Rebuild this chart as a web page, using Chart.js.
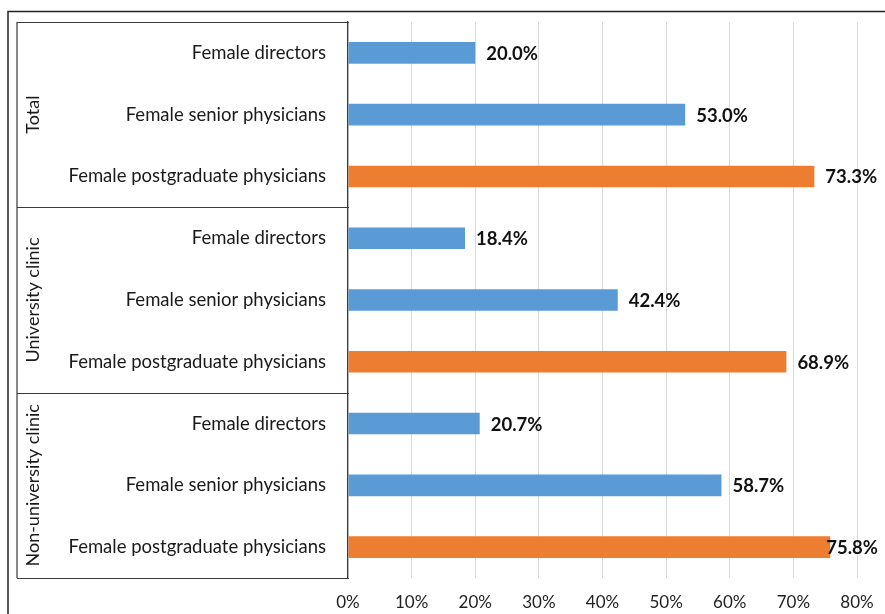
<!DOCTYPE html>
<html>
<head>
<meta charset="utf-8">
<script src="https://cdn.jsdelivr.net/npm/chart.js@4/dist/chart.umd.min.js"></script>
<style>
  html, body { margin: 0; padding: 0; background: #ffffff; }
  #wrap { width: 885px; height: 614px; position: relative; }
</style>
</head>
<body>
<div id="wrap"><canvas id="chart" width="885" height="614"></canvas></div>
<script>
// Share of women by position, per hospital type (percent)
const groups = ['Total', 'University clinic', 'Non-university clinic'];
const roles = ['Female directors', 'Female senior physicians', 'Female postgraduate physicians'];
const totalValues = [20.0, 53.0, 73.3];
const universityValues = [18.4, 42.4, 68.9];
const nonUniversityValues = [20.7, 58.7, 75.8];
const xTicks = [0, 10, 20, 30, 40, 50, 60, 70, 80];

const BLUE = '#5B9BD5';
const ORANGE = '#ED7D31';
const FONT = 'Lato, "Open Sans", sans-serif';

const groupValues = [totalValues, universityValues, nonUniversityValues];
const labels = [];
const values = [];
const colors = [];
groupValues.forEach(vals => {
  vals.forEach((v, i) => {
    labels.push(roles[i]);
    values.push(v);
    colors.push(i === 2 ? ORANGE : BLUE);
  });
});

// Outer frame, group boxes, rotated group names and value labels
const decorations = {
  id: 'decorations',
  afterDatasetsDraw(chart) {
    const { ctx, chartArea } = chart;
    const meta = chart.getDatasetMeta(0);
    const boxLeft = 17;
    const right = chartArea.left + 1;
    const step = (chartArea.bottom - chartArea.top) / labels.length;

    ctx.save();
    // outer frame (top and left edges)
    ctx.strokeStyle = '#222222';
    ctx.lineWidth = 1.5;
    ctx.beginPath();
    ctx.moveTo(8, 614);
    ctx.lineTo(8, 11.5);
    ctx.lineTo(885, 11.5);
    ctx.stroke();

    // group boxes
    ctx.strokeStyle = '#3a3a3a';
    ctx.lineWidth = 1.2;
    ctx.beginPath();
    ctx.moveTo(boxLeft, chartArea.top);
    ctx.lineTo(boxLeft, chartArea.bottom);
    for (let g = 0; g <= groups.length; g++) {
      const y = Math.round(chartArea.top + g * 3 * step) + 0.5;
      ctx.moveTo(boxLeft, y);
      ctx.lineTo(right, y);
    }
    ctx.stroke();

    // rotated group names
    ctx.fillStyle = '#1a1a1a';
    ctx.font = '18px ' + FONT;
    ctx.textAlign = 'center';
    ctx.textBaseline = 'middle';
    groups.forEach((name, g) => {
      const cy = chartArea.top + (g * 3 + 1.5) * step;
      ctx.save();
      ctx.translate(33, cy);
      ctx.rotate(-Math.PI / 2);
      ctx.fillText(name, 0, 0);
      ctx.restore();
    });

    // value labels, kept inside the canvas edge
    ctx.font = 'bold 18.5px ' + FONT;
    ctx.textAlign = 'left';
    ctx.fillStyle = '#111111';
    meta.data.forEach((bar, i) => {
      const text = values[i].toFixed(1) + '%';
      const w = ctx.measureText(text).width;
      const x = Math.min(bar.x + 11, chart.width - 7 - w);
      ctx.fillText(text, x, bar.y + 1);
    });
    ctx.restore();
  }
};

new Chart(document.getElementById('chart'), {
  type: 'bar',
  data: {
    labels: labels,
    datasets: [{
      data: values,
      backgroundColor: colors,
      borderWidth: 0,
      categoryPercentage: 1,
      barPercentage: 0.35
    }]
  },
  options: {
    indexAxis: 'y',
    responsive: false,
    animation: false,
    events: [],
    layout: { padding: { top: 22, right: 28, left: 0, bottom: 0 } },
    plugins: {
      legend: { display: false },
      tooltip: { enabled: false }
    },
    scales: {
      x: {
        min: 0,
        max: 80,
        afterBuildTicks: s => { s.ticks = xTicks.map(v => ({ value: v })); },
        afterFit: s => { s.height = 36; s.paddingLeft = 0; s.paddingRight = 0; },
        grid: { color: '#d9d9d9', lineWidth: 1, drawTicks: false },
        border: { display: false },
        ticks: {
          padding: 14,
          color: '#222222',
          font: { family: FONT, size: 17 },
          callback: v => v + '%'
        }
      },
      y: {
        afterFit: s => { s.width = 348; s.paddingTop = 0; s.paddingBottom = 0; },
        grid: { display: false, drawTicks: false },
        border: { display: true, color: '#3a3a3a', width: 1.2 },
        ticks: {
          padding: 22,
          color: '#1a1a1a',
          font: { family: FONT, size: 18.5 },
          autoSkip: false
        }
      }
    }
  },
  plugins: [decorations]
});
</script>
</body>
</html>
